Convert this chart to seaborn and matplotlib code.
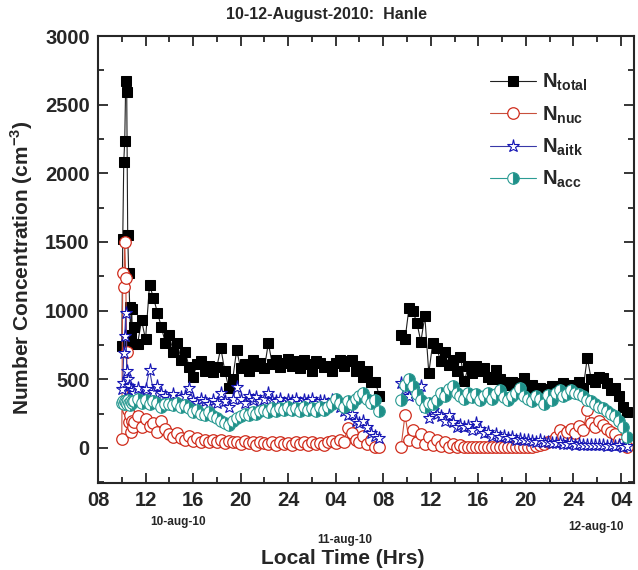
import numpy as np
import pandas as pd
import matplotlib
matplotlib.use('Agg')
import matplotlib.pyplot as plt
from matplotlib.ticker import MultipleLocator
import seaborn as sns

# Sampling times (hours counted from 00:00 on 10-aug-10)
# first hour of day 1 sampled every 5 min, then every 20 min
t_day1 = np.concatenate([[10.0, 10.083, 10.167, 10.25, 10.333, 10.417,
                          10.5, 10.583, 10.667, 10.75, 10.833, 10.917],
                         np.arange(11, 31.9, 1 / 3)])
t_day2 = np.arange(33.5, 52.6, 1 / 3)

# Number concentrations (cm-3), day 1 (10-aug 10:00 -> 11-aug 08:00)
total_day1 = [740, 1525, 2083, 2236, 2674, 2589, 1550, 1275, 1030, 820, 1010, 760,
              880, 760, 930, 790, 1185, 1095, 985, 880, 765, 820, 700, 765,
              640, 700, 590, 520, 610, 630, 560, 600, 550, 590, 730, 560,
              440, 500, 715, 580, 610, 560, 640, 600, 620, 580, 765, 610,
              640, 590, 620, 650, 600, 630, 580, 640, 610, 560, 630, 620,
              590, 600, 560, 620, 640, 600, 630, 640, 560, 600, 520, 557,
              480, 484, 380]
nuc_day1 = [65, 1275, 1175, 1500, 1240, 700, 280, 190, 240, 120, 200, 150,
            190, 230, 150, 210, 160, 180, 120, 200, 140, 100, 80, 110,
            70, 60, 90, 50, 70, 40, 60, 45, 55, 40, 60, 35,
            50, 40, 45, 30, 50, 35, 40, 25, 45, 35, 30, 40,
            25, 45, 30, 35, 20, 40, 30, 45, 25, 40, 30, 35,
            25, 40, 50, 35, 60, 40, 145, 110, 60, 40, 90, 30,
            60, 10, 5]
aitk_day1 = [430, 472, 691, 812, 983, 560, 500, 450, 380, 430, 360, 420,
             400, 440, 380, 430, 570, 410, 450, 400, 380, 360, 390, 340,
             370, 380, 440, 350, 330, 360, 340, 320, 350, 330, 400, 340,
             300, 360, 447, 360, 330, 380, 350, 370, 340, 360, 400, 350,
             340, 360, 330, 350, 340, 360, 330, 350, 340, 360, 330, 345,
             340, 320, 350, 330, 300, 270, 240, 250, 200, 180, 200, 150,
             110, 90, 70]
acc_day1 = [330, 340, 320, 345, 335, 320, 350, 330, 310, 340, 325, 345,
            340, 360, 330, 350, 320, 340, 330, 300, 320, 320, 310, 330,
            300, 310, 290, 260, 280, 250, 240, 260, 230, 220, 200, 180,
            170, 200, 220, 230, 250, 240, 260, 250, 270, 280, 260, 290,
            270, 290, 280, 300, 280, 290, 270, 300, 280, 290, 270, 300,
            280, 300, 320, 360, 330, 300, 340, 320, 360, 380, 400, 360,
            330, 350, 270]

# day 2 (11-aug 09:30 -> 12-aug 04:30)
total_day2 = [825, 790, 1020, 995, 910, 775, 960, 545, 765, 730, 630, 700,
              605, 640, 560, 665, 485, 600, 545, 600, 560, 580, 520, 500,
              570, 500, 480, 460, 480, 450, 470, 510, 440, 460, 420, 440,
              430, 410, 450, 450, 440, 470, 430, 460, 450, 480, 440, 657,
              500, 480, 520, 510, 470, 420, 440, 380, 300, 265]
nuc_day2 = [10, 240, 60, 130, 40, 100, 30, 80, 20, 60, 15, 40,
            10, 30, 10, 20, 8, 10, 5, 10, 5, 8, 5, 10,
            5, 8, 5, 10, 5, 8, 5, 10, 8, 10, 15, 20,
            30, 40, 50, 80, 130, 90, 120, 140, 110, 160, 130, 277,
            180, 150, 200, 170, 140, 120, 100, 60, 30, 10]
aitk_day2 = [470, 430, 380, 460, 400, 450, 300, 215, 280, 250, 230, 200,
             240, 190, 155, 170, 150, 160, 130, 180, 140, 110, 120, 90,
             100, 83, 90, 70, 80, 60, 65, 55, 60, 50, 45, 55,
             40, 45, 35, 35, 40, 30, 30, 35, 25, 30, 25, 20,
             25, 20, 25, 20, 15, 20, 15, 20, 10, 15]
acc_day2 = [350, 460, 500, 450, 390, 350, 300, 330, 320, 350, 400, 380,
            430, 450, 400, 380, 360, 400, 370, 390, 350, 380, 400, 360,
            390, 420, 370, 350, 380, 400, 437, 380, 360, 340, 380, 360,
            320, 387, 350, 400, 420, 380, 390, 420, 400, 390, 375, 350,
            340, 320, 300, 290, 270, 250, 230, 200, 155, 80]

tick_hours = [8, 12, 16, 20, 24, 28, 32, 36, 40, 44, 48, 52]
tick_labels = ['08', '12', '16', '20', '24', '04', '08', '12', '16', '20', '24', '04']

# long table: one row per sample
rows = []
for name, d1, d2 in [('total', total_day1, total_day2), ('nuc', nuc_day1, nuc_day2),
                     ('aitk', aitk_day1, aitk_day2), ('acc', acc_day1, acc_day2)]:
    for t, v in zip(t_day1, d1):
        rows.append((name, 1, t, v))
    for t, v in zip(t_day2, d2):
        rows.append((name, 2, t, v))
df = pd.DataFrame(rows, columns=['series', 'day', 'time', 'conc'])

styles = {
    'total': dict(color='#202020', marker='s', markersize=7.3, markerfacecolor='black',
                  markeredgecolor='black', linewidth=0.8),
    'nuc': dict(color='#c8503c', marker='o', markersize=8.3, markerfacecolor='white',
                markeredgecolor='#d02c1c', markeredgewidth=0.9, linewidth=0.8),
    'aitk': dict(color='#3838a8', marker='*', markersize=9.5, markerfacecolor='white',
                 markeredgecolor='#1414b4', markeredgewidth=0.8, linewidth=0.8),
    'acc': dict(color='#2c9c94', marker='o', markersize=8.3, fillstyle='right',
                markerfacecolor='#1f8f88', markerfacecoloralt='white',
                markeredgecolor='#2a9a92', markeredgewidth=0.8, linewidth=0.8),
}
labels = {
    'total': r'$\mathbf{N}_{\mathbf{total}}$',
    'nuc': r'$\mathbf{N}_{\mathbf{nuc}}$',
    'aitk': r'$\mathbf{N}_{\mathbf{aitk}}$',
    'acc': r'$\mathbf{N}_{\mathbf{acc}}$',
}

sns.set_style('ticks')
plt.rcParams['font.family'] = ['Liberation Sans', 'DejaVu Sans']
plt.rcParams['font.weight'] = 'bold'
plt.rcParams['mathtext.fontset'] = 'custom'
plt.rcParams['mathtext.bf'] = 'Liberation Sans:bold'
plt.rcParams['mathtext.rm'] = 'Liberation Sans:bold'

fig = plt.figure(figsize=(6.38, 5.70), dpi=100)
ax = fig.add_axes([98 / 638, 87 / 570, 536 / 638, 447 / 570])

handles = []
for name in ['total', 'nuc', 'aitk', 'acc']:
    for day in [1, 2]:
        sub = df[(df['series'] == name) & (df['day'] == day)]
        sns.lineplot(data=sub, x='time', y='conc', ax=ax, estimator=None, sort=False,
                     legend=False, **styles[name])
    handles.append(ax.lines[-1])

ax.set_xlim(8, 53.1)
ax.set_ylim(-255, 3000)
ax.set_xticks(tick_hours)
ax.set_xticklabels(tick_labels)
ax.xaxis.set_minor_locator(MultipleLocator(2))
ax.yaxis.set_major_locator(MultipleLocator(500))
ax.yaxis.set_minor_locator(MultipleLocator(250))
ax.tick_params(which='both', direction='in', top=True, right=True, width=1.3,
               labelsize=14.5, pad=6)
ax.tick_params(which='major', length=7)
ax.tick_params(which='minor', length=4)
for lab in ax.get_xticklabels() + ax.get_yticklabels():
    lab.set_fontweight('bold')
for s in ax.spines.values():
    s.set_linewidth(1.5)
ax.set_xlabel('')
ax.set_ylabel('')

leg = ax.legend(handles, [labels[n] for n in ['total', 'nuc', 'aitk', 'acc']],
                loc='upper left', bbox_to_anchor=(490 / 638, 1 - 72 / 570),
                bbox_transform=fig.transFigure, frameon=False, fontsize=14.5,
                handlelength=2.3, handletextpad=0.3, labelspacing=0.55,
                borderaxespad=0, borderpad=0)

fig.text(327 / 638, 1 - 15 / 570, '10-12-August-2010:  Hanle', ha='center', va='center',
         fontsize=11.5, fontweight='bold')
fig.text(22 / 638, 1 - 268 / 570, r'Number Concentration (cm$^{\mathbf{-3}}$)',
         rotation=90, ha='center', va='center', fontsize=15, fontweight='bold')
fig.text(343 / 638, 1 - 559 / 570, 'Local Time (Hrs)', ha='center', va='center',
         fontsize=15, fontweight='bold')
fig.text(178 / 638, 1 - 522 / 570, '10-aug-10', ha='center', va='center',
         fontsize=8.5, fontweight='bold')
fig.text(345 / 638, 1 - 540 / 570, '11-aug-10', ha='center', va='center',
         fontsize=8.5, fontweight='bold')
fig.text(596 / 638, 1 - 527 / 570, '12-aug-10', ha='center', va='center',
         fontsize=8.5, fontweight='bold')

plt.savefig('out.png', dpi=100)
